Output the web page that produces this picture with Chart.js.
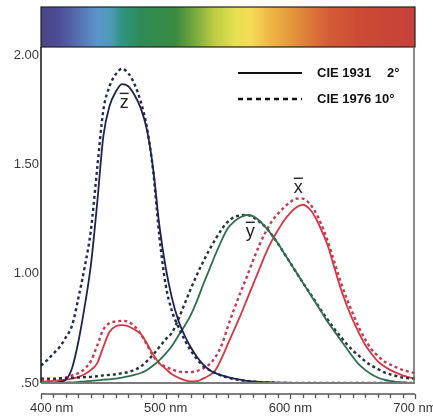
<!DOCTYPE html>
<html>
<head>
<meta charset="utf-8">
<script src="https://cdn.jsdelivr.net/npm/chart.js@4.4.1/dist/chart.umd.min.js"></script>
<style>
  html, body { margin: 0; padding: 0; background: #fff; }
  #wrap { width: 433px; height: 417px; position: relative; }
</style>
</head>
<body>
<div id="wrap"><canvas id="chart"></canvas></div>
<script>
// wavelengths in nm (x axis), 5 nm steps
const wavelengths = [
    400, 405, 410, 415, 420, 425, 430, 435, 440, 445,
    450, 455, 460, 465, 470, 475, 480, 485, 490, 495,
    500, 505, 510, 515, 520, 525, 530, 535, 540, 545,
    550, 555, 560, 565, 570, 575, 580, 585, 590, 595,
    600, 605, 610, 615, 620, 625, 630, 635, 640, 645,
    650, 655, 660, 665, 670, 675, 680, 685, 690, 695,
    700];

// CIE 1931 2 deg (solid)
const zBar1931 = [
    0.50, 0.50, 0.50, 0.505, 0.515, 0.57, 0.69, 0.85, 1.04, 1.32,
    1.63, 1.77, 1.835, 1.87, 1.86, 1.82, 1.76, 1.66, 1.48, 1.22,
    1.03, 0.89, 0.79, 0.72, 0.665, 0.62, 0.585, 0.56, 0.545, 0.535,
    0.527, 0.52, 0.515, 0.51, 0.507, 0.505, 0.504, 0.503, 0.502, 0.502,
    0.501, 0.501, 0.50, 0.50, 0.50, 0.50, 0.50, 0.50, 0.50, 0.50,
    0.50, 0.50, 0.50, 0.50, 0.50, 0.50, 0.50, 0.50, 0.50, 0.50,
    0.50];
const yBar1931 = [
    0.50, 0.50, 0.50, 0.501, 0.502, 0.503, 0.505, 0.507, 0.51, 0.512,
    0.515, 0.517, 0.52, 0.525, 0.53, 0.537, 0.546, 0.56, 0.58, 0.605,
    0.635, 0.67, 0.715, 0.76, 0.81, 0.875, 0.95, 1.02, 1.09, 1.155,
    1.21, 1.24, 1.26, 1.27, 1.265, 1.245, 1.215, 1.18, 1.14, 1.095,
    1.05, 1.005, 0.96, 0.915, 0.87, 0.825, 0.78, 0.74, 0.70, 0.66,
    0.62, 0.585, 0.56, 0.54, 0.525, 0.515, 0.51, 0.505, 0.503, 0.501,
    0.50];
const xBar1931 = [
    0.505, 0.507, 0.51, 0.512, 0.515, 0.52, 0.528, 0.54, 0.56, 0.59,
    0.665, 0.735, 0.76, 0.765, 0.76, 0.745, 0.725, 0.68, 0.63, 0.59,
    0.565, 0.54, 0.525, 0.513, 0.507, 0.508, 0.52, 0.535, 0.56, 0.615,
    0.68, 0.745, 0.81, 0.88, 0.95, 1.02, 1.09, 1.15, 1.20, 1.245,
    1.28, 1.305, 1.317, 1.30, 1.26, 1.20, 1.13, 1.035, 0.94, 0.86,
    0.79, 0.73, 0.675, 0.635, 0.60, 0.578, 0.56, 0.547, 0.535, 0.527,
    0.52];

// CIE 1976 10 deg (dashed)
const zBar1976 = [
    0.58, 0.605, 0.635, 0.665, 0.71, 0.765, 0.89, 1.03, 1.20, 1.48,
    1.75, 1.86, 1.915, 1.94, 1.92, 1.87, 1.79, 1.67, 1.47, 1.17,
    0.95, 0.83, 0.76, 0.70, 0.65, 0.61, 0.58, 0.56, 0.545, 0.533,
    0.525, 0.518, 0.513, 0.509, 0.506, 0.504, 0.503, 0.502, 0.501, 0.50,
    0.50, 0.50, 0.50, 0.50, 0.50, 0.50, 0.50, 0.50, 0.50, 0.50,
    0.50, 0.50, 0.50, 0.50, 0.50, 0.50, 0.50, 0.50, 0.50, 0.50,
    0.50];
const yBar1976 = [
    0.52, 0.52, 0.52, 0.521, 0.523, 0.524, 0.525, 0.527, 0.528, 0.531,
    0.535, 0.537, 0.54, 0.545, 0.55, 0.56, 0.575, 0.60, 0.63, 0.665,
    0.70, 0.73, 0.79, 0.86, 0.93, 0.995, 1.055, 1.11, 1.16, 1.205,
    1.24, 1.26, 1.268, 1.27, 1.26, 1.24, 1.215, 1.18, 1.14, 1.095,
    1.05, 1.005, 0.96, 0.918, 0.875, 0.83, 0.79, 0.75, 0.715, 0.68,
    0.65, 0.625, 0.60, 0.58, 0.565, 0.55, 0.54, 0.532, 0.525, 0.522,
    0.52];
const xBar1976 = [
    0.51, 0.512, 0.515, 0.52, 0.525, 0.535, 0.545, 0.565, 0.60, 0.67,
    0.745, 0.775, 0.782, 0.785, 0.78, 0.76, 0.725, 0.675, 0.625, 0.59,
    0.575, 0.562, 0.553, 0.55, 0.55, 0.555, 0.567, 0.585, 0.62, 0.675,
    0.76, 0.84, 0.915, 0.985, 1.06, 1.13, 1.19, 1.24, 1.275, 1.305,
    1.33, 1.345, 1.345, 1.325, 1.285, 1.225, 1.15, 1.06, 0.97, 0.89,
    0.82, 0.755, 0.70, 0.655, 0.625, 0.60, 0.585, 0.572, 0.56, 0.552,
    0.545];

const yTicks = [0.5, 1.0, 1.5, 2.0];
const yTickLabels = ['.50', '1.00', '1.50', '2.00'];
const xLabelValues = [400, 500, 600, 700];
const xLabels = ['400 nm', '500 nm', '600 nm', '700 nm'];
const legendLabels = ['CIE 1931', '2°', 'CIE 1976 10°'];
// curve name labels: [text, wavelength, value]
const curveLabels = [['z', 466.7, 1.761], ['y', 567.9, 1.170], ['x', 606.4, 1.372]];

const FONT = '"Liberation Sans", Arial, sans-serif';

function pts(vals) {
    return wavelengths.map((w, i) => ({ x: w, y: vals[i] }));
}

function line(vals, color, dashed) {
    return {
        data: pts(vals),
        borderColor: color,
        borderWidth: dashed ? 2.4 : 1.8,
        borderDash: dashed ? [3, 3] : [],
        pointRadius: 0,
        fill: false,
        cubicInterpolationMode: 'monotone',
    };
}

const decor = {
    id: 'decor',
    beforeDraw(chart) {
        const { ctx, chartArea: a } = chart;
        // spectrum bar
        const g = ctx.createLinearGradient(a.left, 0, a.right, 0);
        const stops = [
            [0, '#4b4486'], [0.05, '#504e98'], [0.10, '#5470b0'], [0.15, '#5b95cc'],
            [0.19, '#4a9cb2'], [0.215, '#2f9482'], [0.265, '#2e8a55'], [0.36, '#3a8a40'],
            [0.41, '#74aa3c'], [0.465, '#c0cc44'], [0.52, '#e6e050'], [0.56, '#f4dc58'],
            [0.61, '#eeb845'], [0.665, '#e59a3c'], [0.72, '#dc7838'], [0.77, '#d45c36'],
            [0.85, '#cc4a36'], [1, '#c8403a'],
        ];
        stops.forEach(s => g.addColorStop(s[0], s[1]));
        ctx.save();
        ctx.fillStyle = g;
        ctx.fillRect(a.left, 7, a.right - a.left, a.top - 7);
        ctx.strokeStyle = '#222';
        ctx.lineWidth = 1.2;
        ctx.strokeRect(a.left, 7, a.right - a.left, a.top - 7);
        ctx.restore();
    },
    afterDatasetsDraw(chart) {
        const { ctx, chartArea: a, scales: { x, y } } = chart;
        ctx.save();
        // frame
        ctx.lineWidth = 1.6;
        ctx.strokeStyle = '#1e1e1e';
        ctx.beginPath();
        ctx.moveTo(a.left, a.top);
        ctx.lineTo(a.left, a.bottom);
        ctx.stroke();
        ctx.strokeStyle = '#6e6e6e';
        ctx.beginPath();
        ctx.moveTo(a.right - 1, a.top);
        ctx.lineTo(a.right - 1, a.bottom);
        ctx.stroke();
        ctx.lineWidth = 2;
        ctx.strokeStyle = '#7a7a7a';
        ctx.beginPath();
        ctx.moveTo(a.left, a.bottom);
        ctx.lineTo(a.right, a.bottom);
        ctx.stroke();

        // ruler under the axis
        const ry = a.bottom + 11;
        ctx.lineWidth = 1.3;
        ctx.strokeStyle = '#555';
        ctx.beginPath();
        ctx.moveTo(a.left, ry);
        ctx.lineTo(a.right, ry);
        for (let w = 400; w <= 700; w += 10) {
            const px = Math.round(x.getPixelForValue(w)) + 0.5;
            ctx.moveTo(px, ry);
            ctx.lineTo(px, ry + (w % 100 === 0 ? 5 : 4));
        }
        ctx.stroke();

        // x labels
        ctx.font = '13px ' + FONT;
        ctx.fillStyle = '#333';
        ctx.textBaseline = 'middle';
        ctx.textAlign = 'center';
        xLabelValues.forEach((v, i) => {
            const w = ctx.measureText(xLabels[i]).width;
            const px = Math.max(x.getPixelForValue(v), 30 + w / 2);
            ctx.fillText(xLabels[i], px, a.bottom + 25);
        });

        // legend
        ctx.strokeStyle = '#111';
        ctx.lineWidth = 2;
        ctx.beginPath();
        ctx.moveTo(238, 73);
        ctx.lineTo(302, 73);
        ctx.stroke();
        ctx.lineWidth = 2.4;
        ctx.setLineDash([5, 4]);
        ctx.beginPath();
        ctx.moveTo(238, 99);
        ctx.lineTo(302, 99);
        ctx.stroke();
        ctx.setLineDash([]);
        ctx.font = 'bold 13px ' + FONT;
        ctx.fillStyle = '#111';
        ctx.textAlign = 'left';
        ctx.fillText(legendLabels[0], 317, 73);
        ctx.fillText(legendLabels[1], 387, 73);
        ctx.fillText(legendLabels[2], 317, 99);

        // curve names with overbar
        ctx.font = '18px ' + FONT;
        ctx.textAlign = 'center';
        ctx.textBaseline = 'alphabetic';
        ctx.fillStyle = '#222';
        ctx.strokeStyle = '#222';
        ctx.lineWidth = 1.4;
        curveLabels.forEach(l => {
            const px = x.getPixelForValue(l[1]);
            const py = y.getPixelForValue(l[2]);
            ctx.fillText(l[0], px, py);
            ctx.beginPath();
            ctx.moveTo(px - 4.5, py - 14.5);
            ctx.lineTo(px + 4.5, py - 14.5);
            ctx.stroke();
        });
        ctx.restore();
    },
};

new Chart(document.getElementById('chart'), {
    type: 'line',
    data: {
        datasets: [
            line(zBar1931, '#1c2450', false),
            line(zBar1976, '#232a52', true),
            line(yBar1931, '#2e6f4e', false),
            line(yBar1976, '#27303e', true),
            line(xBar1931, '#d7353f', false),
            line(xBar1976, '#c23a52', true),
        ],
    },
    options: {
        responsive: true,
        maintainAspectRatio: false,
        animation: false,
        layout: { padding: { top: 47, right: 18, bottom: 34, left: 0 } },
        plugins: {
            legend: { display: false },
            tooltip: { enabled: false },
        },
        scales: {
            x: {
                type: 'linear',
                min: 400,
                max: 700,
                grid: { display: false, drawTicks: false },
                border: { display: false },
                ticks: { display: false },
                afterFit: s => { s.height = 0; },
            },
            y: {
                min: 0.5,
                max: 2.04,
                grid: { display: false, drawTicks: false },
                border: { display: false },
                afterBuildTicks: s => { s.ticks = yTicks.map(v => ({ value: v })); },
                afterFit: s => { s.width = 41; },
                ticks: {
                    padding: 2,
                    color: '#3a3a3a',
                    font: { family: FONT, size: 13 },
                    callback: v => yTickLabels[yTicks.indexOf(v)],
                },
            },
        },
    },
    plugins: [decor],
});
</script>
</body>
</html>
